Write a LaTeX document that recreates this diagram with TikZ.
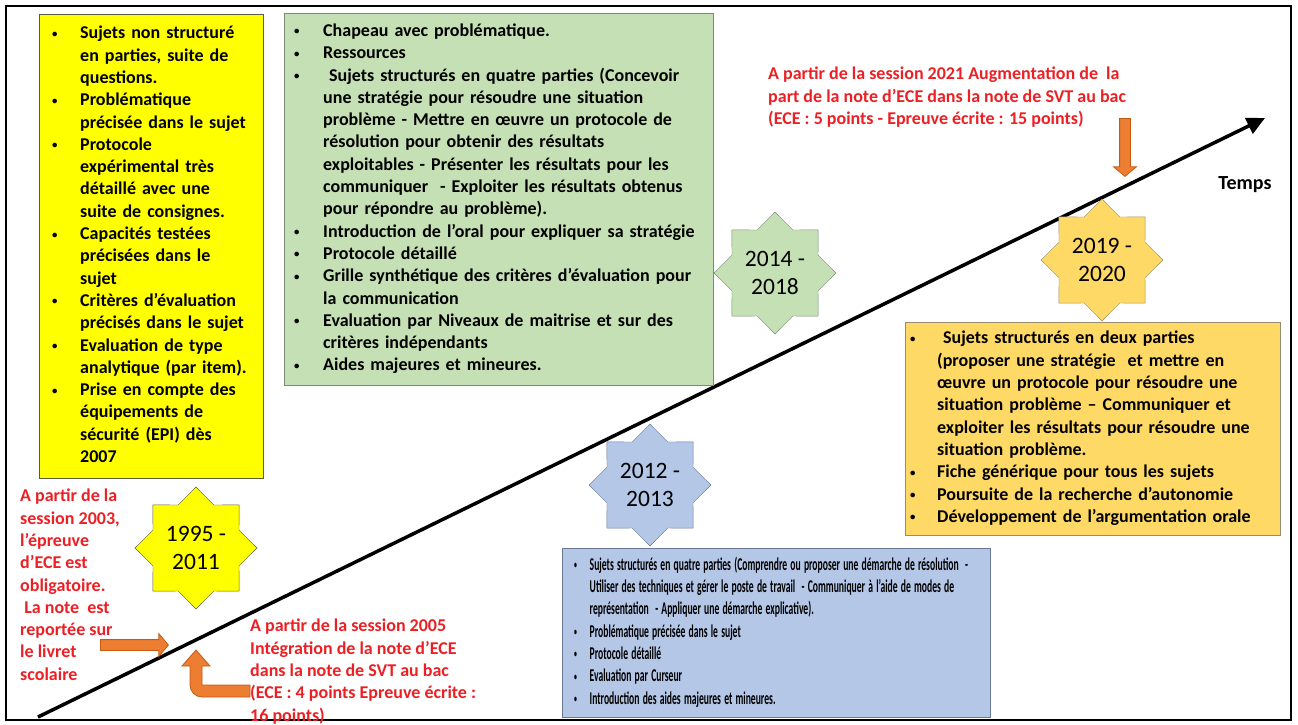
\documentclass[tikz,border=0pt]{standalone}
\usepackage{fontspec}
\usepackage{graphicx}
\setmainfont{Carlito}
\usetikzlibrary{shapes.geometric,shapes.arrows,arrows.meta,positioning}
\definecolor{yfill}{RGB}{255,255,0}
\definecolor{yline}{RGB}{90,90,60}
\definecolor{gfill}{RGB}{197,224,180}
\definecolor{gline}{RGB}{120,140,120}
\definecolor{bfill}{RGB}{180,199,231}
\definecolor{bline}{RGB}{105,120,150}
\definecolor{ofill}{RGB}{255,217,102}
\definecolor{oline}{RGB}{150,140,110}
\definecolor{arrfill}{RGB}{237,125,49}
\definecolor{arrline}{RGB}{197,90,17}
\definecolor{redtxt}{RGB}{236,32,36}
\newcommand{\bul}{\raisebox{1.5pt}{\scalebox{0.6}{\textbullet}}}
\newenvironment{bullets}[1]{\begin{tabular}{@{}p{#1}@{}l@{}}}{\end{tabular}}

\begin{document}
\begin{tikzpicture}[x=1pt,y=-1pt,
    box/.style={draw,anchor=north west,inner ysep=0pt,align=left,font=\fontsize{18}{22.3}\selectfont\bfseries},
    star8/.style={star,star points=8,star point ratio=1.31,minimum size=122pt,inner sep=0pt,draw,align=center,font=\fontsize{23.5}{28}\selectfont},
    note/.style={text=redtxt,anchor=north west,inner sep=0pt,align=left,font=\fontsize{18}{22.3}\selectfont\bfseries},
    barr/.style={single arrow,draw=arrline,fill=arrfill,text height=5pt,text depth=5pt,single arrow head extend=6pt,single arrow tip angle=100,inner sep=0pt,line width=0.8pt},
    timeline/.style={line width=3.5pt,-{Triangle[length=18pt,width=17pt]}}
    ]
    \useasboundingbox (0,0) rectangle (1298,724);
    \draw[line width=1.8pt] (6,6) rectangle (1291,720);

    \coordinate (tstart) at (38,717);
    \coordinate (tend) at (1265,118);
    \draw[timeline] (tstart) -- (tend);
    \node[font=\fontsize{20}{24}\selectfont\bfseries] (temps) at (1245,185) {Temps};

    \node[box,fill=yfill,draw=yline,minimum width=224pt,minimum height=464pt,text width=198pt,inner xsep=13pt] (p1995) at (39,14) {%
    \begin{bullets}{28pt}
    \bul & Sujets non structuré\\
    & en parties, suite de\\
    & questions.\\
    \bul & Problématique\\
    & précisée dans le sujet\\
    \bul & Protocole\\
    & expérimental très\\
    & détaillé avec une\\
    & suite de consignes.\\
    \bul & Capacités testées\\
    & précisées dans le\\
    & sujet\\
    \bul & Critères d’évaluation\\
    & précisés dans le sujet\\
    \bul & Evaluation de type\\
    & analytique (par item).\\
    \bul & Prise en compte des\\
    & équipements de\\
    & sécurité (EPI) dès\\
    & 2007
    \end{bullets}};

    \node[box,fill=gfill,draw=gline,minimum width=429pt,minimum height=372pt,text width=409pt,inner xsep=10pt] (p2014) at (284,13) {%
    \begin{bullets}{29pt}
    \bul & Chapeau avec problématique.\\
    \bul & Ressources\\
    \bul & \ Sujets structurés en quatre parties (Concevoir\\
    & une stratégie pour résoudre une situation\\
    & problème - Mettre en œuvre un protocole de\\
    & résolution pour obtenir des résultats\\
    & exploitables - Présenter les résultats pour les\\
    & communiquer \ - Exploiter les résultats obtenus\\
    & pour répondre au problème).\\
    \bul & Introduction de l’oral pour expliquer sa stratégie\\
    \bul & Protocole détaillé\\
    \bul & Grille synthétique des critères d’évaluation pour\\
    & la communication\\
    \bul & Evaluation par Niveaux de maitrise et sur des\\
    & critères indépendants\\
    \bul & Aides majeures et mineures.
    \end{bullets}};

    \node[box,fill=ofill,draw=oline,minimum width=375pt,minimum height=213pt,text width=365pt,inner xsep=5pt] (p2019) at (905,322) {%
    \begin{bullets}{27pt}
    \bul & \ Sujets structurés en deux parties\\
    & (proposer une stratégie \ et mettre en\\
    & œuvre un protocole pour résoudre une\\
    & situation problème – Communiquer et\\
    & exploiter les résultats pour résoudre une\\
    & situation problème.\\
    \bul & Fiche générique pour tous les sujets\\
    \bul & Poursuite de la recherche d’autonomie\\
    \bul & Développement de l’argumentation orale
    \end{bullets}};

    \node[box,fill=bfill,draw=bline,minimum width=428pt,minimum height=169pt,text width=404pt,inner xsep=12pt] (p2012) at (562,548) {%
    \scalebox{0.535}[1]{\begin{bullets}{29pt}
    \bul & Sujets structurés en quatre parties (Comprendre ou proposer une démarche de résolution \ -\\
    & Utiliser des techniques et gérer le poste de travail \ - Communiquer à l’aide de modes de\\
    & représentation \ - Appliquer une démarche explicative).\\
    \bul & Problématique précisée dans le sujet\\
    \bul & Protocole détaillé\\
    \bul & Evaluation par Curseur\\
    \bul & Introduction des aides majeures et mineures.
    \end{bullets}}};

    \node[star8,fill=yfill,draw=yline] (s1995) at (196,548) {1995 -\\2011};
    \node[star8,fill=bfill,draw=bline] (s2012) at (650,485) {2012 -\\2013};
    \node[star8,fill=gfill,draw=gline] (s2014) at (775,273) {2014 -\\2018};
    \node[star8,fill=ofill,draw=oline] (s2019) at (1102,260) {2019 -\\2020};

    \node[note] (n2003) at (20,489) {A partir de la\\session 2003,\\l’épreuve\\d’ECE est\\obligatoire.\\\ La note \ est\\reportée sur\\le livret\\scolaire};
    \node[note] (n2005) at (250,619) {A partir de la session 2005\\Intégration de la note d’ECE\\dans la note de SVT au bac\\(ECE : 4 points Epreuve écrite :\\16 points)};
    \node[note] (n2021) at (768,67) {A partir de la session 2021 Augmentation de \ la\\part de la note d’ECE dans la note de SVT au bac\\(ECE : 5 points - Epreuve écrite : 15 points)};

    \node[barr,minimum height=68pt,anchor=west] (a2003) at (100,645) {};
    \node[barr,minimum height=58pt,anchor=west,rotate=-90] (a2021) at (1125,118) {};
    \filldraw[draw=arrline,fill=arrfill,line width=0.8pt] (196,650) -- (210,666) -- (202,666) -- (202,685) -- (250,685) -- (250,697) -- (202,697) arc[start angle=90,end angle=180,radius=12] -- (190,666) -- (182,666) -- cycle;
\end{tikzpicture}
\end{document}
